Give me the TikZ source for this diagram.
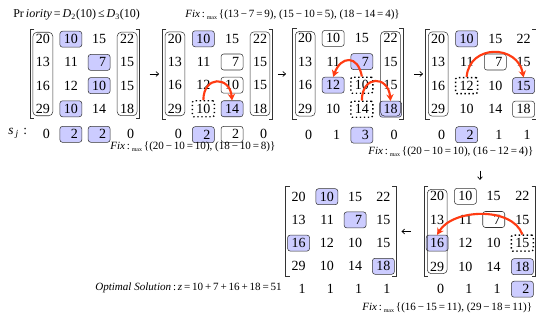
\documentclass[tikz,border=0pt]{standalone}
\usepackage{fontspec}
\setmainfont{Liberation Serif}
\usepackage{tikz}
\usetikzlibrary{matrix,fit,arrows.meta,positioning}

\definecolor{pick_blue}{HTML}{CCCCFF}
\definecolor{swap_red}{HTML}{FF3B12}
\definecolor{frame_gray}{HTML}{333333}

\newcommand{\fixmax}{\textit{Fix}\,:\,\raisebox{-1.5pt}{\fontsize{4.5}{5}\selectfont max}\,}
\newcommand{\brackets}[1]{%
  \draw[bracket] ([xshift=3pt]#1.north west) -- (#1.north west)
        -- (#1.south west) -- ([xshift=3pt]#1.south west);
  \draw[bracket] ([xshift=-3pt]#1.north east) -- (#1.north east)
        -- (#1.south east) -- ([xshift=-3pt]#1.south east);}

\tikzset{
  num/.style={text width=10.5pt, align=right, inner xsep=3pt, inner ysep=0pt,
              minimum height=12pt, font=\fontsize{10.5}{12}\selectfont},
  plain/.style={},
  pick/.style={draw=frame_gray, fill=pick_blue, rounded corners=2pt},
  keep/.style={draw=frame_gray, rounded corners=2pt},
  drop/.style={draw, dotted, line width=1pt, rounded corners=1pt},
  colbox/.style={draw=frame_gray, rounded corners=3pt, inner sep=-1pt},
  mat/.style={matrix of nodes, nodes={num}, column sep=4.3pt, row sep=5pt, inner sep=1pt},
  bracket/.style={frame_gray, line width=0.6pt},
  flow/.style={-{To[length=2.5pt,width=4pt]}, line width=0.5pt},
  reassign/.style={line width=1.6pt, swap_red, -{Stealth[length=5pt,width=5.5pt]}},
  lbl/.style={inner sep=0pt, anchor=west, font=\fontsize{8.3}{10}\selectfont},
}

\begin{document}
\begin{tikzpicture}[x=0.75pt,y=-0.75pt]
    \useasboundingbox (0,0) rectangle (536,320);

    % step 1
    \node[lbl, font=\fontsize{9}{10}\selectfont] (prio) at (13,15)
        {Pr\,\textit{iority}\,=\,\textit{D}\textsubscript{2}(10)\,≤\,\textit{D}\textsubscript{3}(10)};
    \matrix[mat] (m1) at (85,74) {
        20 & |[pick]| 10 & 15 & 22 \\
        13 & 11 & |[pick]| 7 & 15 \\
        16 & 12 & |[pick]| 10 & 15 \\
        29 & |[pick]| 10 & 14 & 18 \\
    };
    \brackets{m1}
    \node[colbox, fit=(m1-1-1)(m1-4-1)] (c1-1) {};
    \node[colbox, fit=(m1-1-4)(m1-4-4)] (c1-4) {};
    \node[lbl, font=\fontsize{10}{11}\selectfont] (sj) at (8,133)
        {\textit{s}\,\textsubscript{\textit{j}}\,\,:};
    \foreach \v/\st [count=\c] in {0/plain,2/pick,2/pick,0/plain}
        \node[num,\st,below=6.75pt of m1-4-\c] (s1-\c) {\v};

    % step 2
    \node[lbl] (fix1) at (185,15)
        {\fixmax\{(13\,−\,7\,=\,9), (15\,−\,10\,=\,5), (18\,−\,14\,=\,4)\}};
    \matrix[mat] (m2) at (217.5,74) {
        20 & |[pick]| 10 & 15 & 22 \\
        13 & 11 & |[keep]| 7 & 15 \\
        16 & 12 & |[keep]| 10 & 15 \\
        29 & |[drop]| 10 & |[pick]| 14 & 18 \\
    };
    \brackets{m2}
    \node[colbox, fit=(m2-1-1)(m2-4-1)] (c2-1) {};
    \node[colbox, fit=(m2-1-4)(m2-4-4)] (c2-4) {};
    \foreach \v/\st [count=\c] in {0/plain,2/pick,2/keep,0/plain}
        \node[num,\st,below=6.75pt of m2-4-\c] (s2-\c) {\v};
    \draw[reassign] (m2-4-2.north) to[out=90,in=95,looseness=2.2] (m2-4-3.north);
    \node[lbl] (fix2) at (110,147)
        {\fixmax\{(20\,−\,10\,=\,10), (18\,−\,10\,=\,8)\}};

    % step 3
    \matrix[mat] (m3) at (348,74) {
        20 & |[keep]| 10 & 15 & 22 \\
        13 & 11 & |[pick]| 7 & 15 \\
        16 & |[pick]| 12 & |[drop]| 10 & 15 \\
        29 & 10 & |[drop]| 14 & |[pick]| 18 \\
    };
    \brackets{m3}
    \node[colbox, fit=(m3-1-1)(m3-4-1)] (c3-1) {};
    \node[colbox, fit=(m3-1-4)(m3-4-4)] (c3-4) {};
    \foreach \v/\st [count=\c] in {0/plain,1/plain,3/pick,0/plain}
        \node[num,\st,below=6.75pt of m3-4-\c] (s3-\c) {\v};
    \draw[reassign] (m3-3-3.north) to[out=100,in=70,looseness=2] (m3-3-2.north);
    \draw[reassign] (m3-4-3.north) to[out=90,in=95,looseness=2.3] (m3-4-4.north);

    % step 4
    \matrix[mat] (m4) at (481,74) {
        20 & |[pick]| 10 & 15 & 22 \\
        13 & 11 & |[keep]| 7 & 15 \\
        16 & |[drop]| 12 & 10 & |[pick]| 15 \\
        29 & 10 & 14 & |[keep]| 18 \\
    };
    \brackets{m4}
    \node[colbox, fit=(m4-1-1)(m4-4-1)] (c4-1) {};
    \foreach \v/\st [count=\c] in {0/plain,2/pick,1/plain,1/plain}
        \node[num,\st,below=6.75pt of m4-4-\c] (s4-\c) {\v};
    \draw[reassign] (m4-3-2.north) to[out=85,in=100,looseness=1.5] (m4-3-4.north);
    \node[lbl] (fix3) at (368,152)
        {\fixmax\{(20\,−\,10\,=\,10), (16\,−\,12\,=\,4)\}};

    % step 5
    \matrix[mat] (m5) at (480,231.5) {
        20 & |[keep]| 10 & 15 & 22 \\
        13 & 11 & |[keep]| 7 & 15 \\
        |[pick]| 16 & 12 & 10 & |[drop]| 15 \\
        29 & 10 & 14 & |[pick]| 18 \\
    };
    \brackets{m5}
    \node[colbox, fit=(m5-1-1)(m5-4-1)] (c5-1) {};
    \foreach \v/\st [count=\c] in {0/plain,1/plain,1/plain,2/pick}
        \node[num,\st,below=4.5pt of m5-4-\c] (s5-\c) {\v};
    \draw[reassign] (m5-3-4.north) to[out=110,in=60,looseness=0.9] (m5-3-1.north);
    \node[lbl] (fix4) at (362,308)
        {\fixmax\{(16\,−\,15\,=\,11), (29\,−\,18\,=\,11)\}};

    % optimal
    \matrix[mat] (mf) at (341,231.5) {
        20 & |[pick]| 10 & 15 & 22 \\
        13 & 11 & |[pick]| 7 & 15 \\
        |[pick]| 16 & 12 & 10 & 15 \\
        29 & 10 & 14 & |[pick]| 18 \\
    };
    \brackets{mf}
    \foreach \v [count=\c] in {1,1,1,1}
        \node[num,below=4.5pt of mf-4-\c] (sf-\c) {\v};
    \node[lbl] (opt) at (95,288)
        {\textit{Optimal Solution}\,:\,\textit{z}\,=\,10\,+\,7\,+\,16\,+\,18\,=\,51};

    % flow between steps
    \draw[flow, shorten <=7.5pt, shorten >=2.5pt] (m1) -- (m2);
    \draw[flow, shorten <=4pt, shorten >=5pt] (m2) -- (m3);
    \draw[flow, shorten <=8pt, shorten >=2pt] (m3) -- (m4);
    \draw[flow, shorten <=10pt, shorten >=5pt] (fix3.south -| m5.north) -- (m5.north);
    \draw[flow, shorten <=10pt, shorten >=4pt] (m5) -- (mf);

\end{tikzpicture}
\end{document}
